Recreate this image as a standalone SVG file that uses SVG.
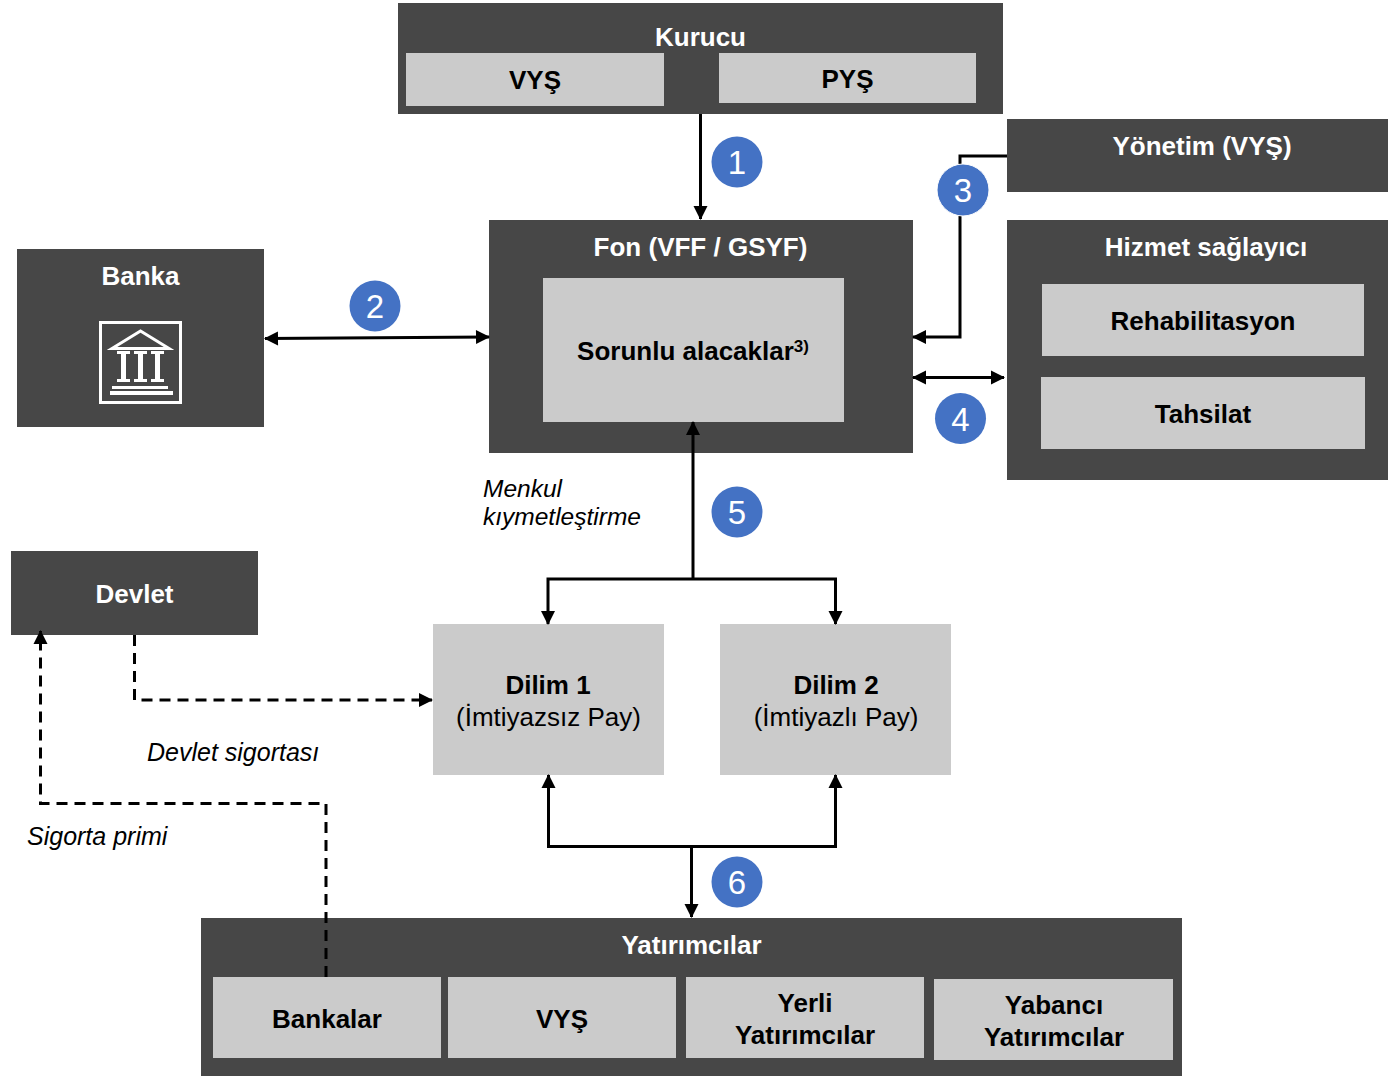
<svg xmlns="http://www.w3.org/2000/svg" width="1388" height="1076" viewBox="0 0 1388 1076">
<style>
text{font-family:"Liberation Sans",Arial,sans-serif;text-anchor:middle;font-size:26px}
.d{fill:#474747}.l{fill:#cbcbcb}
.w{fill:#fff;font-weight:700}
.b{fill:#000;font-weight:700}
.k{fill:#000}
.i{fill:#000;font-style:italic;text-anchor:start}
.c{fill:none;stroke:#000;stroke-width:3}
.da{stroke-dasharray:11 7}
.n{fill:#4472c4}
.t{fill:#fff;font-size:33px}
.ic{fill:none;stroke:#fff;stroke-width:3}
.if{fill:#fff}
</style>
<defs>
<marker id="a" markerUnits="userSpaceOnUse" markerWidth="16" markerHeight="16" refX="14" refY="8" orient="auto-start-reverse"><path d="M1 1L15 8L1 15Z" fill="#000"/></marker>
</defs>
<g id="kurucu">
<rect class="d" x="398" y="3" width="605" height="111"/>
<text class="w" x="700.500" y="46">Kurucu</text>
<rect class="l" x="406" y="53" width="258" height="53"/>
<text class="b" x="535" y="89">VYŞ</text>
<rect class="l" x="719" y="53" width="257" height="50"/>
<text class="b" x="847.500" y="88">PYŞ</text>
</g>
<g id="yonetim">
<rect class="d" x="1007" y="119" width="381" height="73"/>
<text class="w" x="1202" y="155">Yönetim (VYŞ)</text>
</g>
<g id="fon">
<rect class="d" x="489" y="220" width="424" height="233"/>
<text class="w" x="700.500" y="256">Fon (VFF / GSYF)</text>
<rect class="l" x="543" y="278" width="301" height="144"/>
<text class="b" x="693" y="360">Sorunlu alacaklar<tspan font-size="17" dy="-8">3)</tspan></text>
</g>
<g id="hizmet">
<rect class="d" x="1007" y="220" width="381" height="260"/>
<text class="w" x="1206" y="256">Hizmet sağlayıcı</text>
<rect class="l" x="1042" y="284" width="322" height="72"/>
<text class="b" x="1203" y="330">Rehabilitasyon</text>
<rect class="l" x="1041" y="377" width="324" height="72"/>
<text class="b" x="1203" y="423">Tahsilat</text>
</g>
<g id="banka">
<rect class="d" x="17" y="249" width="247" height="178"/>
<text class="w" x="140.500" y="285">Banka</text>
<rect class="ic" x="100.500" y="322.500" width="80" height="80"/>
<path class="ic" stroke-width="2.500" d="M112 348.500L140.500 331L169 348.500Z"/>
<path class="if" d="M117 351h13v3h-4v25h4v3h-13v-3h4v-25h-4zM134 351h13v3h-4v25h4v3h-13v-3h4v-25h-4zM151 351h13v3h-4v25h4v3h-13v-3h4v-25h-4zM112 386h56v3h-56zM110 391h63v4h-63z"/>
</g>
<g id="devlet">
<rect class="d" x="11" y="551" width="247" height="84"/>
<text class="w" x="134.500" y="603">Devlet</text>
</g>
<g id="dilim1">
<rect class="l" x="433" y="624" width="231" height="151"/>
<text class="b" x="548" y="694">Dilim 1</text>
<text class="k" x="548.500" y="726">(İmtiyazsız Pay)</text>
</g>
<g id="dilim2">
<rect class="l" x="720" y="624" width="231" height="151"/>
<text class="b" x="836" y="694">Dilim 2</text>
<text class="k" x="836" y="726">(İmtiyazlı Pay)</text>
</g>
<g id="yatirimcilar">
<rect class="d" x="201" y="918" width="981" height="158"/>
<text class="w" x="691.500" y="954">Yatırımcılar</text>
<rect class="l" x="213" y="977" width="228" height="81"/>
<text class="b" x="327" y="1028">Bankalar</text>
<rect class="l" x="448" y="977" width="228" height="81"/>
<text class="b" x="562" y="1028">VYŞ</text>
<rect class="l" x="686" y="977" width="238" height="81"/>
<text class="b" x="805" y="1012">Yerli</text>
<text class="b" x="805" y="1044">Yatırımcılar</text>
<rect class="l" x="934" y="979" width="239" height="81"/>
<text class="b" x="1054" y="1014">Yabancı</text>
<text class="b" x="1054" y="1046">Yatırımcılar</text>
</g>
<g id="connectors">
<path class="c" d="M700.500 114V219" marker-end="url(#a)"/>
<path class="c" d="M265 338.500L489 337" marker-start="url(#a)" marker-end="url(#a)"/>
<path class="c" d="M1007 156H960V337H913" marker-end="url(#a)"/>
<path class="c" d="M913 377.500H1004" marker-start="url(#a)" marker-end="url(#a)"/>
<path class="c" d="M693 422V579" marker-start="url(#a)"/>
<path class="c" d="M548 624V579H835.500V624" marker-start="url(#a)" marker-end="url(#a)"/>
<path class="c" d="M548.500 775V846.500H835.500V775" marker-start="url(#a)" marker-end="url(#a)"/>
<path class="c" d="M691.500 846.500V917" marker-end="url(#a)"/>
<path class="c da" d="M134.500 635V700H432" marker-end="url(#a)"/>
<path class="c da" d="M326 977V803.500H40.500V631" marker-end="url(#a)"/>
</g>
<g id="badge1"><circle class="n" cx="737" cy="162" r="25.500"/><text class="t" x="737" y="174">1</text></g>
<g id="badge2"><circle class="n" cx="375" cy="306" r="25.500"/><text class="t" x="375" y="318">2</text></g>
<g id="badge3"><circle class="n" cx="963" cy="190" r="26" stroke="#fff" stroke-width="1"/><text class="t" x="963" y="202">3</text></g>
<g id="badge4"><circle class="n" cx="960.500" cy="418.500" r="25.500"/><text class="t" x="960.500" y="431">4</text></g>
<g id="badge5"><circle class="n" cx="737" cy="512" r="25.500"/><text class="t" x="737" y="524">5</text></g>
<g id="badge6"><circle class="n" cx="737" cy="882" r="25.500"/><text class="t" x="737" y="894">6</text></g>
<g id="labels">
<text class="i" x="483" y="497" font-size="24" style="font-size:24.500px">Menkul</text>
<text class="i" x="483" y="525" style="font-size:24.500px">kıymetleştirme</text>
<text class="i" x="147" y="761" style="font-size:25px">Devlet sigortası</text>
<text class="i" x="27" y="845" style="font-size:25px">Sigorta primi</text>
</g>
</svg>
